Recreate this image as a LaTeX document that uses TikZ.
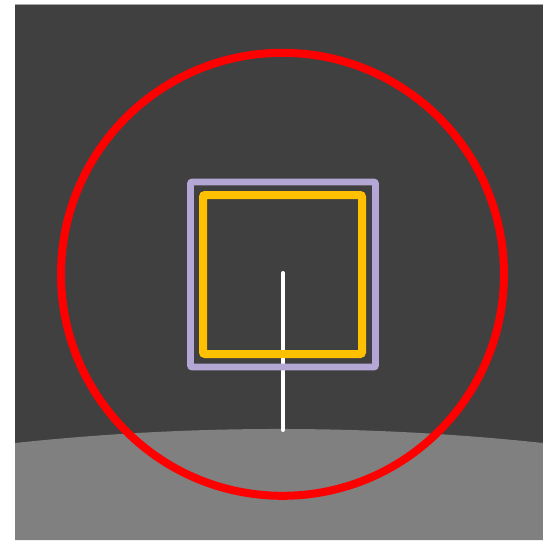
\documentclass[tikz,border=0pt]{standalone}
\usepackage{tikz}
\definecolor{skydark}{HTML}{404040}
\definecolor{ground}{HTML}{808080}
\definecolor{lavender}{HTML}{B4A7D6}
\definecolor{amber}{HTML}{FFC000}
\begin{document}
\begin{tikzpicture}[x=0.75pt,y=-0.75pt,
  ring/.style={draw=red,line width=6pt},
  outerbox/.style={draw=lavender,line width=5.2pt,rounded corners=1.5pt},
  innerbox/.style={draw=amber,line width=6pt,rounded corners=1.5pt},
  pole/.style={draw=white,line width=3pt,line cap=round}]
  \useasboundingbox (0,0) rectangle (543,540);
  \fill[white] (0,0) rectangle (543,540);
  \fill[skydark] (15,4.5) rectangle (543,540);
  \draw[gray!70,line width=0.8pt] (15,4.5) -- (543,4.5);
  % ground
  \fill[ground] (15,443) .. controls (190,424.3) and (368,424.3) .. (543,443)
    -- (543,540) -- (15,540) -- cycle;
  \coordinate (top) at (283,273);
  \coordinate (foot) at (283,430);
  \draw[pole] (top) -- (foot);
  \draw[outerbox] (190.5,182) rectangle (375.5,367);
  \draw[innerbox] (203,195) rectangle (362,354);
  \draw[ring] (282.5,274.3) circle (221.5);
\end{tikzpicture}
\end{document}
